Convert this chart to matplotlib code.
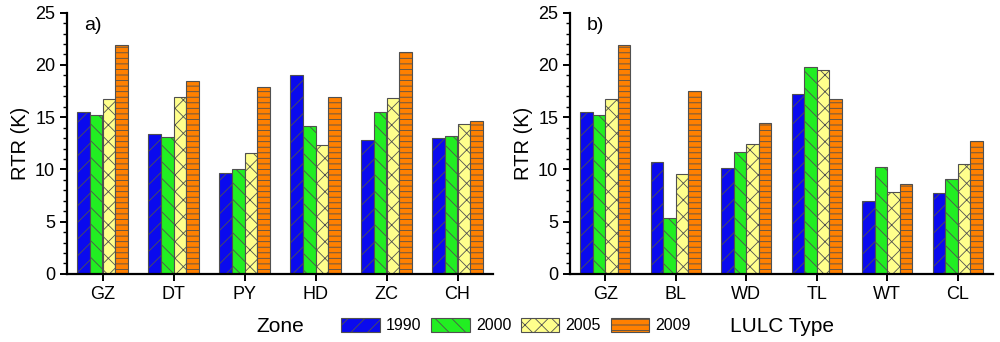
import numpy as np
import matplotlib
matplotlib.use('Agg')
import matplotlib.pyplot as plt
from matplotlib.patches import Patch
from matplotlib.ticker import MultipleLocator

plt.rcParams['font.family'] = ['Liberation Sans', 'DejaVu Sans']
plt.rcParams['hatch.linewidth'] = 0.6

years = ['1990', '2000', '2005', '2009']
zones = ['GZ', 'DT', 'PY', 'HD', 'ZC', 'CH']
zone_vals = {
    '1990': [15.5, 13.4, 9.7, 19.0, 12.8, 13.0],
    '2000': [15.2, 13.1, 10.0, 14.2, 15.5, 13.2],
    '2005': [16.7, 16.9, 11.6, 12.3, 16.8, 14.3],
    '2009': [21.9, 18.5, 17.9, 16.9, 21.2, 14.6],
}
lulc = ['GZ', 'BL', 'WD', 'TL', 'WT', 'CL']
lulc_vals = {
    '1990': [15.5, 10.7, 10.1, 17.2, 7.0, 7.7],
    '2000': [15.2, 5.4, 11.7, 19.8, 10.2, 9.1],
    '2005': [16.7, 9.6, 12.4, 19.5, 7.8, 10.5],
    '2009': [21.9, 17.5, 14.4, 16.7, 8.6, 12.7],
}

colors = {'1990': '#0a0aee', '2000': '#22ee22', '2005': '#ffff8c', '2009': '#ff8000'}
hatches = {'1990': '//', '2000': '\\\\', '2005': 'xx', '2009': '---'}
edge = '#505050'

fig = plt.figure(figsize=(10, 3.42), dpi=100)
ax1 = fig.add_axes([0.067, 0.199, 0.426, 0.764])
ax2 = fig.add_axes([0.570, 0.199, 0.423, 0.764])

bw = 0.178
for ax, cats, vals, xl, tag in [(ax1, zones, zone_vals, 'Zone', 'a)'),
                                (ax2, lulc, lulc_vals, 'LULC Type', 'b)')]:
    x = np.arange(1, len(cats) + 1)
    for i, y in enumerate(years):
        ax.bar(x + (i - 1.5) * bw, vals[y], width=bw, color=colors[y],
               edgecolor=edge, linewidth=0.8, hatch=hatches[y])
    ax.set_xlim(0.5, 6.5)
    ax.set_ylim(0, 25)
    ax.set_xticks(x)
    ax.set_xticklabels(cats)
    ax.yaxis.set_major_locator(MultipleLocator(5))
    ax.yaxis.set_minor_locator(MultipleLocator(1))
    ax.spines['top'].set_visible(False)
    ax.spines['right'].set_visible(False)
    ax.spines['left'].set_linewidth(1.6)
    ax.spines['bottom'].set_linewidth(1.6)
    ax.tick_params(axis='both', which='major', labelsize=13, width=1.4, length=5)
    ax.tick_params(axis='y', which='minor', width=1.0, length=3)
    ax.set_ylabel('RTR (K)', fontsize=14.5)
    ax.set_xlabel(xl, fontsize=15)
    ax.xaxis.set_label_coords(0.5, -0.165)
    ax.text(0.04, 0.985, tag, transform=ax.transAxes, fontsize=14, va='top')

handles = [Patch(facecolor=colors[y], edgecolor=edge, hatch=hatches[y], linewidth=0.8)
           for y in years]
fig.legend(handles, years, loc='center', bbox_to_anchor=(0.516, 0.047), ncol=4,
           frameon=False, fontsize=11.5, handlelength=2.4, handleheight=0.9,
           columnspacing=0.6, handletextpad=0.4)

fig.savefig('out.png', dpi=100)
